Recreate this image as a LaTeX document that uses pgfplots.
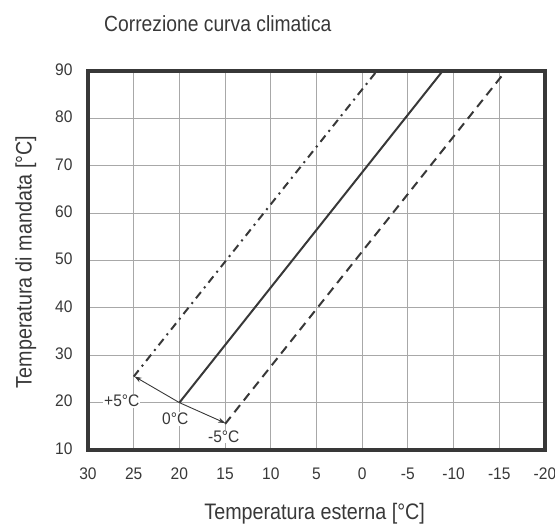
\documentclass[border=0pt]{standalone}
\usepackage{fontspec}
\setmainfont[FakeStretch=0.88]{Liberation Sans}
\newfontfamily\tickfont[FakeStretch=0.93]{Liberation Sans}
\usepackage{pgfplots}
\pgfplotsset{compat=1.18}
\usetikzlibrary{arrows.meta}
\definecolor{txt}{HTML}{383838}
\definecolor{framec}{HTML}{383838}
\definecolor{gridc}{HTML}{A8A8A8}
\begin{document}
\begin{tikzpicture}
\useasboundingbox (-88bp,-74bp) rectangle (467bp,450bp);
\begin{axis}[
 scale only axis, width=457bp, height=379bp,
 at={(0,0)}, anchor=south west,
 x dir=reverse, xmin=-20, xmax=30, ymin=10, ymax=90,
 xtick={-20,-15,...,30}, ytick={10,20,...,90},
 grid=major, major grid style={gridc, line width=0.9bp},
 major tick length=0pt,
 axis line style={framec, line width=4bp},
 tick label style={txt, font=\tickfont\fontsize{16.8}{19}\selectfont},
 /pgf/number format/assume math mode=true,
 xticklabel style={yshift=-14bp},
 yticklabel style={xshift=-12bp, yshift=1.5bp},
 clip=false,
]
\addplot[framec, line width=2bp] coordinates {(20,20) (-8.8,90)};
\addplot[framec, line width=2bp, dash pattern=on 8bp off 5bp on 2bp off 5bp] coordinates {(25,25.5) (-1.6,90)};
\addplot[framec, line width=2bp, dash pattern=on 9bp off 6bp] coordinates {(15,15.5) (-15.7,90)};
\addplot[framec, line width=0.9bp, -{Stealth[length=7bp,width=5bp]}] coordinates {(20,20) (24.9,25.5)};
\addplot[framec, line width=0.9bp, -{Stealth[length=7bp,width=5bp]}] coordinates {(20,20) (15.0,15.7)};
\node[txt, fill=white, inner sep=0.8bp, font=\tickfont\fontsize{16.8}{19}\selectfont] at (axis cs:26.3,20.3) {+5°C};
\node[txt, fill=white, inner sep=0.8bp, font=\tickfont\fontsize{16.8}{19}\selectfont] at (axis cs:20.45,16.5) {0°C};
\node[txt, fill=white, inner sep=0.8bp, font=\tickfont\fontsize{16.8}{19}\selectfont] at (axis cs:15.15,12.8) {-5°C};
\end{axis}
\node[txt, anchor=base west, inner sep=0pt, font=\fontsize{22}{26}\selectfont] at (16bp,418.3bp) {Correzione curva climatica};
\node[txt, anchor=base, inner sep=0pt, font=\fontsize{22.5}{26}\selectfont] at (226.7bp,-69bp) {Temperatura esterna [°C]};
\node[txt, rotate=90, anchor=base, inner sep=0pt, font=\fontsize{22.5}{26}\selectfont] at (-56.3bp,188bp) {Temperatura di mandata [°C]};
\end{tikzpicture}
\end{document}
